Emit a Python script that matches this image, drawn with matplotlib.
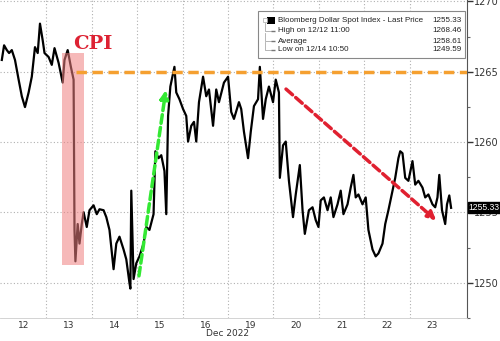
import matplotlib.pyplot as plt
from matplotlib.patches import Rectangle, FancyArrowPatch
import numpy as np

# trading-day position (0 = start of Dec 12) and index level
times = [0.02, 0.07, 0.13, 0.18, 0.24, 0.31, 0.39, 0.46, 0.53, 0.61, 0.68, 0.75, 0.81, 0.86,
         0.92, 0.96, 1.05, 1.12, 1.18, 1.27, 1.36, 1.40, 1.47, 1.54, 1.60, 1.62, 1.64, 1.69,
         1.73, 1.78, 1.82, 1.89, 1.95, 2.04, 2.11, 2.17, 2.26, 2.32, 2.39, 2.48, 2.54, 2.61,
         2.70, 2.76, 2.83, 2.85, 2.87, 2.92, 2.98, 3.05, 3.14, 3.20, 3.27, 3.36, 3.40, 3.47,
         3.53, 3.60, 3.64, 3.68, 3.73, 3.82, 3.86, 3.93, 4.01, 4.08, 4.12, 4.19, 4.25, 4.30,
         4.36, 4.45, 4.52, 4.58, 4.67, 4.74, 4.80, 4.91, 5.00, 5.07, 5.13, 5.24, 5.29, 5.35,
         5.44, 5.50, 5.57, 5.66, 5.70, 5.77, 5.83, 5.90, 5.99, 6.05, 6.12, 6.14, 6.21, 6.27,
         6.34, 6.43, 6.49, 6.58, 6.64, 6.69, 6.78, 6.86, 6.93, 6.99, 7.04, 7.11, 7.19, 7.26,
         7.32, 7.41, 7.48, 7.54, 7.63, 7.70, 7.76, 7.81, 7.87, 7.96, 8.03, 8.09, 8.18, 8.25,
         8.31, 8.40, 8.46, 8.53, 8.62, 8.68, 8.75, 8.79, 8.84, 8.90, 8.97, 9.06, 9.12, 9.19,
         9.28, 9.34, 9.41, 9.50, 9.56, 9.61, 9.65, 9.71, 9.78, 9.82, 9.87, 9.91]
prices = [1265.84, 1266.88, 1266.54, 1266.33, 1266.54, 1265.84, 1264.44, 1263.26, 1262.49,
          1263.53, 1264.65, 1266.75, 1266.33, 1268.42, 1267.23, 1266.33, 1266.05, 1265.49,
          1266.68, 1265.63, 1264.23, 1265.84, 1266.54, 1265.35, 1264.44, 1253.76, 1251.53,
          1254.18, 1252.79, 1254.18, 1255.02, 1253.97, 1255.16, 1255.51, 1254.88, 1255.23,
          1255.16, 1254.67, 1253.76, 1250.97, 1252.79, 1253.28, 1252.37, 1251.67, 1249.99,
          1249.59, 1256.55, 1250.27, 1251.39, 1251.88, 1252.79, 1253.97, 1253.76, 1254.88,
          1259.35, 1258.86, 1259.07, 1257.95, 1254.88, 1261.86, 1263.95, 1265.35, 1263.53,
          1263.05, 1262.35, 1261.86, 1260.04, 1261.16, 1261.44, 1260.04, 1262.84, 1264.65,
          1263.26, 1263.74, 1261.16, 1263.74, 1262.84, 1264.23, 1264.65, 1262.14, 1261.65,
          1262.84, 1262.35, 1260.74, 1258.86, 1260.74, 1262.56, 1263.05, 1265.35, 1261.65,
          1263.05, 1263.95, 1262.84, 1264.44, 1263.53, 1257.46, 1259.77, 1260.04, 1257.25,
          1254.67, 1256.28, 1258.37, 1255.16, 1253.48, 1255.16, 1255.37, 1254.46, 1253.97,
          1255.86, 1256.07, 1255.16, 1256.07, 1254.67, 1255.58, 1256.55, 1254.88, 1255.58,
          1256.77, 1257.67, 1256.07, 1256.28, 1255.58, 1256.07, 1253.76, 1252.37, 1251.88,
          1252.09, 1252.79, 1254.18, 1255.16, 1256.55, 1257.46, 1258.86, 1259.35, 1259.21,
          1257.46, 1257.25, 1258.65, 1256.98, 1257.25, 1256.77, 1256.07, 1256.28, 1255.58,
          1255.37, 1256.07, 1257.67, 1255.16, 1254.18, 1255.58, 1256.21, 1255.33]

day_labels = ['12', '13', '14', '15', '16', '19', '20', '21', '22', '23']
legend_rows = [('Bloomberg Dollar Spot Index - Last Price', '1255.33'),
               ('High on 12/12 11:00', '1268.46'),
               ('Average', '1258.61'),
               ('Low on 12/14 10:50', '1249.59')]
last_price = 1255.33
resistance = 1265.0

fig = plt.figure(figsize=(5, 3.41), dpi=100)
ax = fig.add_axes([0.0, 0.0674, 0.934, 0.9326])

ax.plot(times, prices, color='black', lw=1.6, zorder=3)

ax.set_xlim(-0.02, 10.26)
ax.set_ylim(1247.8, 1270.1)

# grid
for d in range(1, 10):
    ax.axvline(d, color='#b0b0b0', lw=0.8, ls=(0, (1, 2)), zorder=1)
for v in [1250, 1255, 1260, 1265, 1270]:
    ax.axhline(v, color='#b0b0b0', lw=0.8, ls=(0, (1, 2)), zorder=1)

# axes styling
ax.yaxis.tick_right()
ax.set_yticks([1250, 1255, 1260, 1265, 1270])
ax.set_yticks(np.arange(1247.5, 1270.1, 2.5), minor=True)
ax.tick_params(axis='y', which='major', length=4, width=1, color='#333333',
               labelsize=7, labelcolor='#333333', pad=1)
ax.tick_params(axis='y', which='minor', length=2, width=0.8, color='#666666')
ax.set_xticks(np.arange(10) + 0.5)
ax.set_xticklabels(day_labels)
ax.tick_params(axis='x', length=0, labelsize=6.5, labelcolor='#333333', pad=2)
for s in ['left', 'top']:
    ax.spines[s].set_visible(False)
ax.spines['right'].set_color('#555555')
ax.spines['bottom'].set_color('#cccccc')
ax.spines['bottom'].set_linewidth(0.6)

fig.text(0.454, 1 - 334 / 341, 'Dec 2022', fontsize=6.5, color='#333333',
         ha='center', va='center')
fig.text(0.454, -0.006, 'Australia 61 2 9777 8600 Brazil 5511 2395 9000 Europe 44 20 7330 7500 '
         'Germany 49 69 9204 1210 Hong Kong 852 2977 6000', fontsize=4.5,
         color='#555555', ha='center', va='center')

# CPI highlight
ax.add_patch(Rectangle((1.34, 1251.25), 0.48, 15.08, facecolor='#f08080', alpha=0.55,
                       edgecolor='none', zorder=4))
ax.text(2.03, 1267.0, 'CPI', color='#dd2233', fontsize=14, fontweight='bold',
        family='DejaVu Serif', ha='center', va='center', zorder=5)

# resistance line
ax.plot([1.66, 10.26], [resistance, resistance], color='#f5a030', lw=2.5,
        ls=(0, (3, 1.6)), zorder=4)

# arrows
ax.add_patch(FancyArrowPatch((3.03, 1250.3), (3.64, 1263.9), arrowstyle='-|>',
                             mutation_scale=12, color='#33e833', lw=2.5,
                             ls=(0, (2.5, 1.2)), zorder=5))
ax.add_patch(FancyArrowPatch((6.23, 1263.9), (9.63, 1254.3), arrowstyle='-|>',
                             mutation_scale=12, color='#e02030', lw=2.5,
                             ls=(0, (2.5, 1.2)), zorder=5))

# legend box
ax.add_patch(Rectangle((0.552, 0.818), 0.443, 0.147, transform=ax.transAxes,
                       facecolor='white', edgecolor='#888888', lw=0.8, zorder=6))
row_y = [0.934, 0.903, 0.871, 0.843]
for (name, val), y in zip(legend_rows, row_y):
    ax.text(0.595, y, name, transform=ax.transAxes, fontsize=5.8, color='#222222',
            family='Liberation Sans', va='center', zorder=7)
    ax.text(0.989, y, val, transform=ax.transAxes, fontsize=5.8, color='#222222',
            family='Liberation Sans', va='center', ha='right', zorder=7)
ax.add_patch(Rectangle((0.572, 0.926), 0.016, 0.019, transform=ax.transAxes,
                       facecolor='black', zorder=7))
ax.add_patch(Rectangle((0.563, 0.93), 0.008, 0.012, transform=ax.transAxes,
                       facecolor='white', edgecolor='#aaaaaa', lw=0.5, zorder=7))
for y in row_y[1:]:
    ax.plot([0.567, 0.567, 0.58], [y + 0.026, y, y], transform=ax.transAxes,
            color='#aaaaaa', lw=0.6, zorder=7)
    ax.plot([0.585], [y], transform=ax.transAxes, marker='_', color='#777777',
            ms=3, zorder=7)

# last price tag
ax.annotate(f'{last_price:.2f}', xy=(1.0, last_price), xycoords=('axes fraction', 'data'),
            xytext=(1, 0), textcoords='offset points', fontsize=6.2, color='white',
            family='Liberation Sans', va='center', ha='left',
            bbox=dict(boxstyle='square,pad=0.1', facecolor='black', edgecolor='black'),
            zorder=8, annotation_clip=False)

fig.savefig('out.png', dpi=100)
